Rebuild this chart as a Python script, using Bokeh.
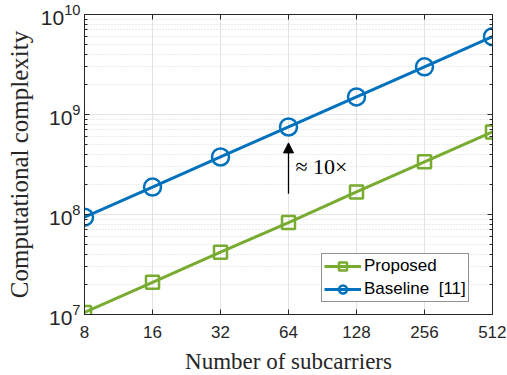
from bokeh.plotting import figure
from bokeh.models import LogAxis, FixedTicker, LogTicker, Arrow, NormalHead, Label, NumeralTickFormatter
from bokeh.embed import file_html
from bokeh.resources import INLINE

subcarriers = [8, 16, 32, 64, 128, 256, 512]
proposed = [1.05e7, 2.1e7, 4.2e7, 8.3e7, 1.68e8, 3.36e8, 6.7e8]
baseline = [9.4e7, 1.88e8, 3.76e8, 7.5e8, 1.5e9, 3.0e9, 6.0e9]
x_ticks = [8, 16, 32, 64, 128, 256, 512]
arrow_from, arrow_to = 1.61e8, 5.2e8
arrow_label_y = 3.0e8

GREEN = "#77AC30"
BLUE = "#0072BD"
AX = "#262626"
SANS = "Liberation Sans"
SERIF = "Liberation Serif"

p = figure(x_axis_type="log", y_axis_type="log", x_range=(8, 512), y_range=(1e7, 1e10),
           frame_width=408, frame_height=300, output_backend="svg", toolbar_location=None,
           min_border_left=84, min_border_right=14, min_border_top=14, min_border_bottom=40,
           background_fill_color="white", border_fill_color="white")
p.outline_line_color = AX

p.line(subcarriers, proposed, line_color=GREEN, line_width=3, legend_label="Proposed")
p.scatter(subcarriers, proposed, marker="square", size=13, fill_color=None, line_color=GREEN,
          line_width=2.5, legend_label="Proposed")
p.line(subcarriers, baseline, line_color=BLUE, line_width=3, legend_label="Baseline  [11]")
p.scatter(subcarriers, baseline, marker="circle", size=17, fill_color=None, line_color=BLUE,
          line_width=2.5, legend_label="Baseline  [11]")

xt = FixedTicker(ticks=x_ticks, minor_ticks=[])
p.xaxis.ticker = xt
p.xaxis.formatter = NumeralTickFormatter(format="0")
p.yaxis.ticker = LogTicker(num_minor_ticks=10)

for ax in [p.xaxis[0], p.yaxis[0]]:
    ax.major_tick_in = 5
    ax.major_tick_out = 0
    ax.minor_tick_in = 3
    ax.minor_tick_out = 0
    ax.axis_line_color = AX
    ax.major_tick_line_color = AX
    ax.minor_tick_line_color = AX
    ax.major_label_text_font = SANS
    ax.major_label_text_color = AX
    ax.axis_label_text_font = SERIF
    ax.axis_label_text_font_style = "normal"
    ax.axis_label_text_color = AX
p.xaxis.axis_label_text_font_size = "23px"
p.yaxis.axis_label_text_font_size = "25px"
p.xaxis.major_label_text_font_size = "17px"
p.yaxis.major_label_text_font_size = "21px"
p.xaxis.minor_tick_line_color = None
p.xaxis.axis_label = "Number of subcarriers"
p.yaxis.axis_label = "Computational complexity"
p.xaxis.major_label_standoff = 11
p.yaxis.major_label_standoff = 4
p.xaxis.axis_label_standoff = 8
p.yaxis.axis_label_standoff = 5

top = LogAxis(ticker=FixedTicker(ticks=x_ticks, minor_ticks=[]), major_label_text_font_size="1px",
              major_label_text_alpha=0, major_label_standoff=0, major_tick_in=5, major_tick_out=0,
              minor_tick_line_color=None, axis_line_color=AX, major_tick_line_color=AX)
right = LogAxis(ticker=LogTicker(num_minor_ticks=10), major_label_text_font_size="1px",
                major_label_text_alpha=0, major_label_standoff=0, major_tick_in=5, major_tick_out=0,
                minor_tick_in=3, minor_tick_out=0, axis_line_color=AX, major_tick_line_color=AX,
                minor_tick_line_color=AX)
p.add_layout(top, "above")
p.add_layout(right, "right")

p.xgrid.grid_line_color = "#e3e3e3"
p.ygrid.grid_line_color = "#e3e3e3"
p.ygrid.minor_grid_line_color = "#d8d8d8"
p.ygrid.minor_grid_line_dash = "1 2"

p.add_layout(Arrow(end=NormalHead(size=10, fill_color="black", line_color="black"),
                   x_start=64, y_start=arrow_from, x_end=64, y_end=arrow_to,
                   line_color="black", line_width=1.3))
p.add_layout(Label(x=64, y=arrow_label_y, x_offset=7, text="≈ 10×", text_font=SERIF,
                   text_font_size="22px", text_baseline="middle", text_color="black"))

lg = p.legend[0]
lg.location = (237, 12)
lg.margin = 0
lg.border_line_color = AX
lg.background_fill_alpha = 1
lg.label_text_font = SANS
lg.label_text_font_size = "17px"
lg.label_text_color = "black"
lg.glyph_width = 37
lg.glyph_height = 20
lg.label_height = 20
lg.spacing = 3
lg.padding = 2
lg.label_standoff = 3

open("out.html", "w").write(file_html(p, INLINE))
